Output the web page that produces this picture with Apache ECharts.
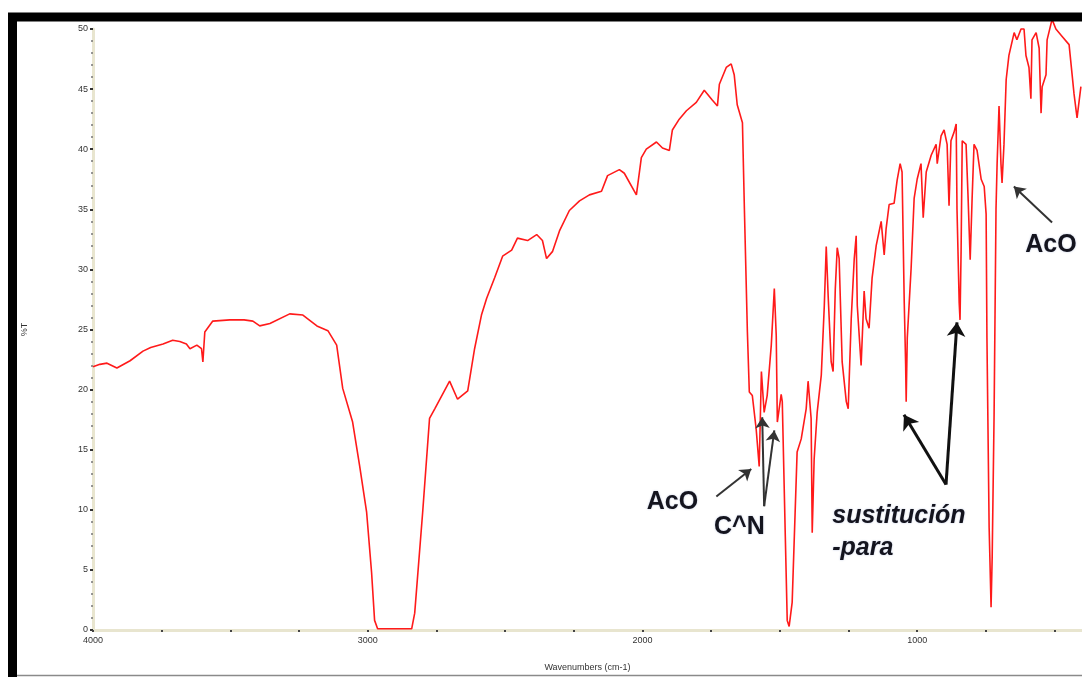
<!DOCTYPE html>
<html>
<head>
<meta charset="utf-8">
<script src="https://cdn.jsdelivr.net/npm/echarts@6/dist/echarts.min.js"></script>
<style>
html,body{margin:0;padding:0;background:#fff;}
#chart{width:1082px;height:677px;}
</style>
</head>
<body>
<div id="chart"></div>
<script>
// Wavenumbers (cm-1) and %T
const wavenumbers = [4000,3975,3949,3913,3865,3818,3790,3745,3710,3684,3660,3647,3622,3605,3600,3593,3564,3502,3450,3418,3393,3356,3284,3236,3185,3145,3113,3091,3055,3029,3004,2986,2975,2964,2840,2829,2800,2775,2756,2702,2673,2636,2611,2586,2567,2538,2509,2476,2455,2418,2385,2364,2349,2327,2302,2266,2229,2193,2149,2127,2084,2066,2022,2004,1986,1949,1927,1902,1891,1866,1840,1804,1775,1746,1727,1720,1695,1677,1666,1655,1636,1629,1618,1611,1600,1586,1575,1567,1557,1546,1531,1520,1513,1509,1495,1491,1480,1473,1466,1455,1437,1422,1404,1397,1386,1382,1375,1364,1349,1338,1331,1324,1313,1306,1298,1291,1284,1273,1258,1251,1240,1229,1222,1218,1204,1193,1186,1175,1164,1149,1131,1120,1113,1102,1084,1073,1062,1055,1047,1042,1040,1036,1022,1011,1000,986,978,967,949,931,927,913,902,891,884,877,866,858,855,847,844,840,836,822,815,807,800,793,782,767,756,749,746,738,731,727,720,713,709,702,695,691,684,676,666,647,637,622,611,604,593,586,582,567,556,549,545,531,527,509,495,473,447,436,429,418,404];
const transmittance = [21.9,22.1,22.2,21.8,22.4,23.2,23.5,23.8,24.1,24.0,23.8,23.4,23.7,23.4,22.3,24.8,25.7,25.8,25.8,25.7,25.3,25.5,26.3,26.2,25.3,24.9,23.7,20.1,17.3,13.6,9.8,4.8,0.8,0.1,0.1,1.4,9.8,17.6,18.4,20.7,19.2,19.9,23.4,26.2,27.6,29.3,31.1,31.6,32.6,32.4,32.9,32.4,30.9,31.5,33.2,34.9,35.7,36.2,36.5,37.8,38.3,38.0,36.2,39.3,40.0,40.6,40.1,39.9,41.6,42.5,43.2,43.9,44.9,44.1,43.6,45.4,46.8,47.1,46.2,43.7,42.2,35.1,24.8,19.8,19.5,16.7,13.6,21.5,18.1,19.5,23.7,28.4,24.5,17.3,19.6,19.0,7.8,0.8,0.3,2.3,14.8,15.9,18.4,20.7,17.6,8.1,14.2,18.1,21.2,27.0,31.9,27.8,22.3,21.5,28.4,31.8,30.9,22.3,19.0,18.4,25.9,30.9,32.8,27.0,22.0,28.2,25.9,25.1,29.3,32.0,34.0,31.2,33.4,35.4,35.5,37.4,38.8,38.1,27.2,22.1,19.0,24.3,30.1,35.9,37.5,38.8,34.3,38.1,39.5,40.4,38.8,41.1,41.6,40.4,35.3,40.7,41.4,42.1,35.0,27.2,25.8,31.7,40.7,40.4,36.2,30.8,35.9,40.4,39.9,37.5,36.9,34.6,24.3,8.5,1.9,6.0,17.9,35.0,38.8,43.6,38.8,37.2,40.4,45.8,47.8,49.7,49.1,50.0,50.0,47.8,46.8,44.2,49.1,49.7,48.4,43.0,45.2,46.2,49.1,50.8,50.0,49.4,48.7,46.2,44.6,42.6,45.2];

// Axis ticks
const xLabelValues = [4000,3000,2000,1000];
const xTickValues = [4000,3750,3500,3250,3000,2750,2500,2250,2000,1750,1500,1250,1000,750,500];
const yLabelValues = [0,5,10,15,20,25,30,35,40,45,50];

// Annotations: text labels [text, wavenumber, %T]
const labelTexts = ['AcO','C^N','sustitución','-para','AcO'];
const labelWn    = [1891,1647,1309,1309,513];
const labelT     = [10.6,8.6,9.5,6.8,32.0];
// Arrows: [from wn, from %T, to wn, to %T]
const arrowFromWn = [1731,1557,1557,895,895,509];
const arrowFromT  = [11.1,10.3,10.3,12.1,12.1,33.9];
const arrowToWn   = [1604,1564,1520,1048,855,648];
const arrowToT    = [13.4,17.7,16.6,17.9,25.6,36.9];

const chart = echarts.init(document.getElementById('chart'));
const data = wavenumbers.map((w,i)=>[w,transmittance[i]]);

const arrowData = arrowFromWn.map((w,i)=>{
  const thick = (i===3||i===4);
  return [
    {coord:[w,arrowFromT[i]], symbol:'none', lineStyle:{width: thick?3:2, color: thick?'#111':'#333'}},
    {coord:[arrowToWn[i],arrowToT[i]], symbol:'arrow', symbolSize: thick?14:11}
  ];
});

const labelData = labelTexts.map((t,i)=>{
  const italic = (i===2||i===3);
  return {
    name: t,
    coord:[labelWn[i],labelT[i]],
    label:{
      show:true,
      formatter:'{b}',
      position:'inside',
      align: italic?'left':'center',
      verticalAlign:'middle',
      fontStyle: italic?'italic':'normal',
      fontWeight:'bold',
      fontSize: italic?25:25,
      fontFamily:'Liberation Sans, Arial, sans-serif',
      color:'#14141e',
      textShadowColor:'rgba(60,90,160,0.35)',
      textShadowBlur:2
    }
  };
});

chart.setOption({
  animation:false,
  backgroundColor:'#ffffff',
  grid:{left:93,right:0,top:29,bottom:47,containLabel:false},
  xAxis:{
    type:'value',
    inverse:true,
    min:400,
    max:4000,
    name:'Wavenumbers (cm-1)',
    nameLocation:'middle',
    nameGap:33,
    nameTextStyle:{fontSize:9,color:'#333',fontFamily:'Liberation Sans, Arial'},
    axisLine:{show:true,onZero:false,lineStyle:{color:'#e8e5cf',width:3}},
    axisTick:{show:true,customValues:xTickValues,length:2,lineStyle:{color:'#444',width:2}},
    axisLabel:{customValues:xLabelValues,formatter:(v)=>String(v),fontSize:9,color:'#333',margin:6,fontFamily:'Liberation Sans Narrow, Liberation Sans, Arial'},
    splitLine:{show:false}
  },
  yAxis:{
    type:'value',
    min:0,
    max:50,
    interval:5,
    name:'%T',
    nameLocation:'middle',
    nameRotate:90,
    nameGap:64,
    nameTextStyle:{fontSize:9,color:'#333',fontFamily:'Liberation Sans, Arial'},
    axisLine:{show:true,lineStyle:{color:'#e8e5cf',width:3}},
    axisTick:{show:true,length:3,lineStyle:{color:'#333',width:2}},
    minorTick:{show:true,splitNumber:5,length:2,lineStyle:{color:'#777',width:1.5}},
    axisLabel:{customValues:yLabelValues,formatter:(v)=>String(v),fontSize:9,color:'#333',margin:5,fontFamily:'Liberation Sans Narrow, Liberation Sans, Arial'},
    splitLine:{show:false}
  },
  series:[{
    type:'line',
    data:data,
    showSymbol:false,
    clip:false,
    lineStyle:{color:'#ff1a1a',width:1.6},
    markLine:{
      silent:true,
      symbol:['none','arrow'],
      symbolSize:11,
      label:{show:false},
      lineStyle:{type:'solid',color:'#333',width:2},
      itemStyle:{color:'#111'},
      emphasis:{disabled:true},
      data:arrowData
    },
    markPoint:{
      silent:true,
      symbol:'rect',
      symbolSize:1,
      itemStyle:{color:'rgba(0,0,0,0)'},
      data:labelData
    }
  }],
  graphic:[
    {type:'rect',z:100,silent:true,shape:{x:12.5,y:17,width:1200,height:720},style:{fill:'none',stroke:'#000',lineWidth:9}},
    {type:'line',z:100,silent:true,shape:{x1:17,y1:675.5,x2:1082,y2:675.5},style:{stroke:'#8a8a8a',lineWidth:1.5}}
  ]
});
</script>
</body>
</html>
